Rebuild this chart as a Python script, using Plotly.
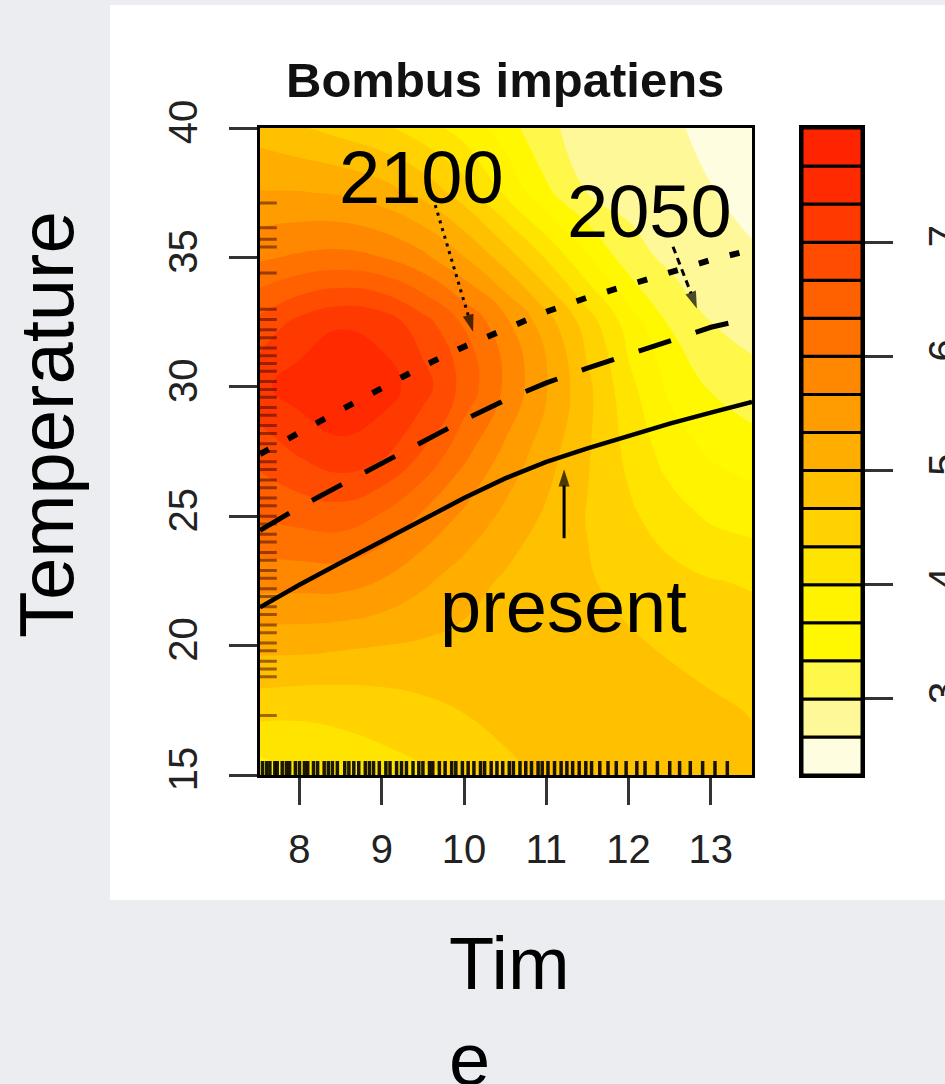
import plotly.graph_objects as go

# ---------------- data ----------------
grid_x = [7.5, 8.0, 8.5, 9.0, 9.5, 10.0, 10.5, 11.0, 11.5, 12.0, 12.5, 13.0, 13.5]
grid_y = [15, 17.5, 20, 22.5, 25, 27.5, 30, 32.5, 35, 37.5, 40]
z_rows = [
    [3.8, 4.0, 4.12, 4.2, 4.28, 4.38, 4.58, 4.72, 4.78, 4.8, 4.8, 4.78, 4.75],
    [4.45, 4.4, 4.42, 4.48, 4.58, 4.68, 4.78, 4.85, 4.88, 4.88, 4.82, 4.72, 4.65],
    [5.1, 5.1, 5.05, 5.0, 4.95, 4.9, 4.85, 4.82, 4.78, 4.72, 4.62, 4.55, 4.5],
    [5.8, 5.8, 5.8, 5.65, 5.4, 5.15, 4.95, 4.82, 4.7, 4.55, 4.45, 4.35, 4.3],
    [6.35, 6.45, 6.5, 6.3, 5.95, 5.6, 5.25, 4.95, 4.65, 4.4, 4.15, 3.95, 3.85],
    [6.8, 7.05, 7.25, 7.1, 6.65, 6.1, 5.6, 5.15, 4.7, 4.25, 3.85, 3.62, 3.5],
    [7.25, 7.5, 7.6, 7.5, 7.15, 6.55, 5.95, 5.35, 4.75, 4.1, 3.6, 3.3, 3.12],
    [6.75, 7.1, 7.3, 7.2, 6.8, 6.3, 5.75, 5.15, 4.5, 3.85, 3.3, 3.0, 2.88],
    [5.95, 6.05, 6.1, 6.0, 5.75, 5.35, 4.85, 4.3, 3.7, 3.15, 2.92, 2.78, 2.7],
    [5.35, 5.35, 5.3, 5.15, 4.9, 4.5, 3.95, 3.4, 3.0, 2.88, 2.8, 2.68, 2.58],
    [4.85, 4.7, 4.55, 4.4, 4.15, 3.85, 3.5, 3.05, 2.9, 2.82, 2.72, 2.58, 2.45],
]

level_lo = [2.3333, 2.6667, 3.0, 3.3333, 3.6667, 4.0, 4.3333, 4.6667, 5.0,
            5.3333, 5.6667, 6.0, 6.3333, 6.6667, 7.0, 7.3333, 7.6667]
level_step = [0.3333] * 17
level_colors = ['#FFFDE0', '#FFF898', '#FFF84A', '#FFF800', '#FFF300', '#FFE400',
                '#FFD200', '#FFC000', '#FFAE00', '#FF9C00', '#FF8800', '#FF7200',
                '#FF6000', '#FF4C00', '#FF3A00', '#FF2A00', '#FF2400']

line_x = [7.52, 8.0, 8.5, 9.0, 9.5, 10.0, 10.5, 11.0, 11.5, 12.0, 12.5, 13.0, 13.5]
present_y = [21.48, 22.35, 23.2, 24.05, 24.88, 25.7, 26.46, 27.1, 27.62, 28.12, 28.58, 29.0, 29.42]
y2050 = [24.45, 25.35, 26.2, 27.05, 27.9, 28.72, 29.49, 30.15, 30.72, 31.25, 31.82, 32.3, 32.66]
y2100 = [27.4, 28.25, 29.1, 29.95, 30.8, 31.55, 32.25, 32.9, 33.45, 33.95, 34.45, 34.9, 35.3]

rug_x = [7.55, 7.6, 7.64, 7.7, 7.73, 7.79, 7.84, 7.88, 7.95, 8.0, 8.06, 8.1, 8.17, 8.22,
         8.3, 8.35, 8.4, 8.46, 8.55, 8.6, 8.66, 8.72, 8.8, 8.85, 8.9, 8.97, 9.05, 9.1,
         9.18, 9.24, 9.3, 9.38, 9.45, 9.5, 9.58, 9.62, 9.7, 9.77, 9.85, 9.9, 9.98, 10.05,
         10.12, 10.2, 10.25, 10.33, 10.4, 10.47, 10.55, 10.6, 10.68, 10.75, 10.82, 10.9,
         10.95, 11.02, 11.1, 11.18, 11.25, 11.32, 11.4, 11.48, 11.55, 11.65, 11.75, 11.85,
         11.97, 12.1, 12.2, 12.35, 12.5, 12.62, 12.75, 12.9, 13.05, 13.2]
rug_y = [37.1, 36.15, 35.7, 35.4, 34.4, 33.0, 32.6, 32.2, 31.9, 31.5, 31.2, 30.9, 30.6,
         30.2, 29.9, 29.6, 29.2, 28.9, 28.5, 28.2, 27.8, 27.5, 27.1, 26.8, 26.4, 26.1,
         25.7, 25.4, 25.0, 24.7, 24.3, 24.0, 23.6, 23.3, 22.9, 22.6, 22.2, 21.9, 21.5,
         21.2, 20.8, 20.5, 20.1, 19.8, 19.4, 19.1, 18.8, 17.3]

x_ticks = [8, 9, 10, 11, 12, 13]
y_ticks = [15, 20, 25, 30, 35, 40]
key_ticks = [3, 4, 5, 6, 7]

# arrows: [start, tip]
arrow2100_x = [9.65, 10.11]
arrow2100_y = [37.02, 32.13]
arrow2050_x = [12.54, 12.83]
arrow2050_y = [35.41, 33.03]
arrowpres_x = [11.216, 11.216]
arrowpres_y = [24.15, 26.81]

labels = ['2100', '2050', 'present']
label_x = [9.485, 12.249, 11.204]
label_y = [38.08, 36.77, 21.53]

# ---------------- figure ----------------
W, H = 945, 1084
FONT = 'Arial, Liberation Sans, sans-serif'

n = len(level_colors)
step = 1.0 / 3.0
key_min = level_lo[0]
key_max = level_lo[-1] + level_step[-1]

# contour fill: band j gets colour j (colorscale stops at j/(n-1))
cs_fill = [[j / (n - 1), c] for j, c in enumerate(level_colors)]

fig = go.Figure()

fig.add_trace(go.Contour(
    x=grid_x, y=grid_y, z=z_rows,
    contours=dict(start=level_lo[1], end=level_lo[-1], size=step,
                  coloring='fill', showlines=False),
    line=dict(width=0, smoothing=1.3),
    colorscale=cs_fill, showscale=False, hoverinfo='skip',
    xaxis='x', yaxis='y'))

# rugs
fig.add_trace(go.Scatter(
    x=rug_x, y=[15] * len(rug_x), mode='markers', cliponaxis=True,
    marker=dict(symbol='line-ns', size=20, line=dict(width=3.5, color='rgba(0,0,0,0.9)')),
    hoverinfo='skip', xaxis='x', yaxis='y'))
fig.add_trace(go.Scatter(
    x=[7.52] * len(rug_y), y=rug_y, mode='markers', cliponaxis=True,
    marker=dict(symbol='line-ew', size=24, line=dict(width=3, color='rgba(60,0,0,0.5)')),
    hoverinfo='skip', xaxis='x', yaxis='y'))

# curves
fig.add_trace(go.Scatter(x=line_x, y=y2100, mode='lines', line=dict(color='black', width=6, dash='10px,22px'),
                         hoverinfo='skip', xaxis='x', yaxis='y'))
fig.add_trace(go.Scatter(x=line_x, y=y2050, mode='lines', line=dict(color='black', width=5, dash='34px,26px'),
                         hoverinfo='skip', xaxis='x', yaxis='y'))
fig.add_trace(go.Scatter(x=line_x, y=present_y, mode='lines', line=dict(color='black', width=4.5),
                         hoverinfo='skip', xaxis='x', yaxis='y'))

# arrows
for ax_, ay_, dash in [(arrow2100_x, arrow2100_y, '3px,5px'),
                       (arrow2050_x, arrow2050_y, '7px,5px'),
                       (arrowpres_x, arrowpres_y, 'solid')]:
    fig.add_trace(go.Scatter(
        x=ax_, y=ay_, mode='lines+markers',
        line=dict(color='black', width=3, dash=dash),
        marker=dict(symbol=['circle', 'arrow'], size=[0, 18], angleref='previous',
                    color='black', line=dict(width=0)),
        hoverinfo='skip', xaxis='x', yaxis='y'))

# colour key
fig.add_trace(go.Bar(
    x=[0] * n, y=level_step, base=level_lo, width=1,
    marker=dict(color=level_colors, line=dict(color='black', width=3)),
    hoverinfo='skip', xaxis='x2', yaxis='y2'))

axis_common = dict(showgrid=False, zeroline=False, showline=True, mirror=True,
                   linecolor='black', linewidth=3, ticks='outside', tickwidth=3,
                   tickcolor='#333', automargin=False,
                   tickfont=dict(family=FONT, size=40, color='#222'))

fig.update_layout(
    template=None,
    width=W, height=H, margin=dict(l=0, r=0, t=0, b=0, pad=0), autosize=False,
    paper_bgcolor='#EBEDF0', plot_bgcolor='white', showlegend=False,
    barmode='overlay', bargap=0,
    xaxis=dict(domain=[260 / W, 752 / W], range=[7.52, 13.5], tickvals=x_ticks,
               ticklen=27, ticklabelstandoff=10, anchor='y', **axis_common),
    yaxis=dict(domain=[1 - 775 / H, 1 - 128 / H], range=[15, 40], tickvals=y_ticks,
               ticklen=28, tickangle=-90, ticklabelstandoff=16, anchor='x', **axis_common),
    xaxis2=dict(domain=[802 / W, 862 / W], range=[-0.5, 0.5], showticklabels=False,
                showgrid=False, zeroline=False, showline=True, mirror=True, automargin=False,
                linecolor='black', linewidth=3, anchor='y2', ticks=''),
    yaxis2=dict(domain=[1 - 775 / H, 1 - 128 / H], range=[key_min, key_max],
                tickvals=key_ticks, side='right', ticklen=28, tickangle=-90,
                ticklabelstandoff=16, anchor='x2', **axis_common),
)

# white slide panel
fig.add_shape(type='rect', xref='paper', yref='paper', x0=110 / W, x1=1.0,
              y0=1 - 900 / H, y1=1 - 5 / H, fillcolor='white', line=dict(width=0), layer='below')

# in-plot labels
for t, lx, ly in zip(labels, label_x, label_y):
    fig.add_annotation(x=lx, y=ly, xref='x', yref='y', text=t, showarrow=False,
                       xanchor='center', yanchor='middle',
                       font=dict(family=FONT, size=74, color='black'))

# title and axis titles
fig.add_annotation(x=505 / W, y=1 - 80.4 / H, xref='paper', yref='paper',
                   text='<b>Bombus impatiens</b>', showarrow=False,
                   xanchor='center', yanchor='middle',
                   font=dict(family=FONT, size=49, color='#111'))
fig.add_annotation(x=47 / W, y=1 - 425 / H, xref='paper', yref='paper',
                   text='Temperature', textangle=-90, showarrow=False,
                   xanchor='center', yanchor='middle',
                   font=dict(family=FONT, size=76, color='black'))
fig.add_annotation(x=447 / W, y=1 - 920 / H, xref='paper', yref='paper',
                   text='Tim<br>e', showarrow=False, align='left',
                   xanchor='left', yanchor='top',
                   font=dict(family=FONT, size=74, color='black'))

fig.write_html('out.html', config={'displayModeBar': False, 'staticPlot': True},
               post_script="document.body.style.margin='0';document.body.style.background='#EBEDF0';")
